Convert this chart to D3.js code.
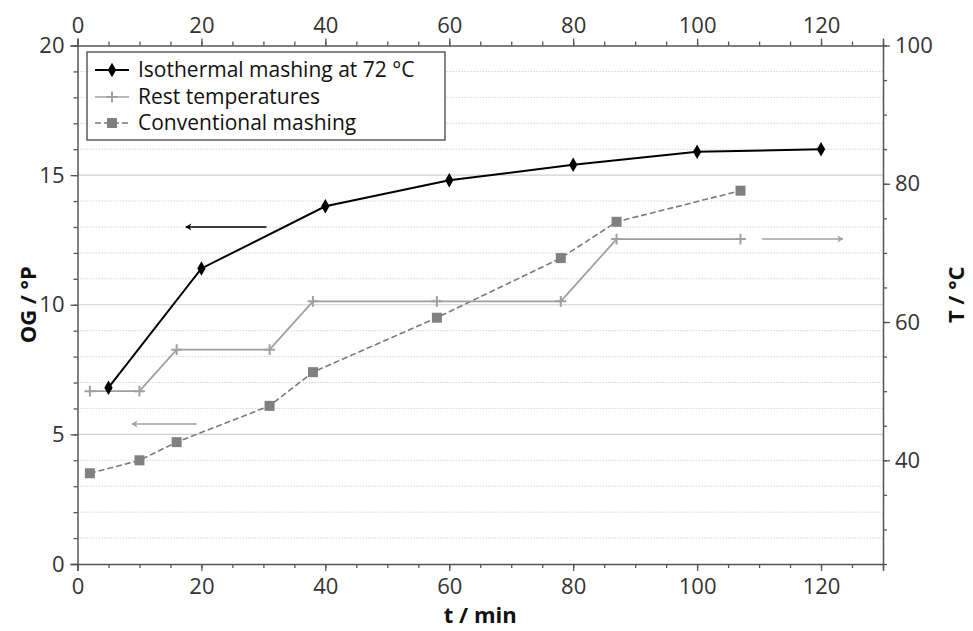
<!DOCTYPE html>
<html>
<head>
<meta charset="utf-8">
<script src="https://cdn.jsdelivr.net/npm/d3@7"></script>
<style>
  body { margin: 0; background: #fff; }
  svg { font-family: "Open Sans", sans-serif; }
</style>
</head>
<body>
<div id="app"></div>
<script>
// data
const isoTime = [5, 20, 40, 60, 80, 100, 120];
const isoOG = [6.8, 11.4, 13.8, 14.8, 15.4, 15.9, 16.0];

const restTime = [2, 10, 16, 31, 38, 58, 78, 87, 107];
const restTemp = [50, 50, 56, 56, 63, 63, 63, 72, 72];

const convTime = [2, 10, 16, 31, 38, 58, 78, 87, 107];
const convOG = [3.5, 4.0, 4.7, 6.1, 7.4, 9.5, 11.8, 13.2, 14.4];

const legendLabels = ['Isothermal mashing at 72 °C', 'Rest temperatures', 'Conventional mashing'];

// axis-pointer arrows: start time, end time, value, which axis
const arrowFrom = [30.5, 19.2, 110.5];
const arrowTo = [17.5, 8.8, 123.5];
const arrowValue = [13, 5.4, 72];
const arrowAxis = ['left', 'left', 'right'];

const xTicks = [0, 20, 40, 60, 80, 100, 120];
const xMinor = d3.range(0, 131, 5);
const leftTicks = [0, 5, 10, 15, 20];
const leftMinor = d3.range(0, 21, 1);
const rightTicks = [40, 60, 80, 100];
const rightMinor = d3.range(25, 101, 5);

const W = 973;
const H = 631;
const margin = { top: 45.5, right: 90, bottom: 67, left: 77.5 };
const width = W - margin.left - margin.right;
const height = H - margin.top - margin.bottom;

const black = '#000';
const restColor = '#a0a0a0';
const convColor = '#7a7a7a';
const axisColor = '#555';
const labelColor = '#333';
const fontSize = 22;
const legendFontSize = 21;

const svg = d3.select('#app')
  .append('svg')
  .attr('width', W)
  .attr('height', H);

const g = svg.append('g')
  .attr('transform', `translate(${margin.left},${margin.top})`);

const x = d3.scaleLinear().domain([0, 130]).range([0, width]);
const yL = d3.scaleLinear().domain([0, 20]).range([height, 0]);
const yR = d3.scaleLinear().domain([25, 100]).range([height, 0]);

// grid: dotted every unit, solid every 5
g.append('g')
  .selectAll('line')
  .data(leftMinor.filter(v => v % 5 !== 0))
  .join('line')
  .attr('x1', 0)
  .attr('x2', width)
  .attr('y1', d => yL(d))
  .attr('y2', d => yL(d))
  .attr('stroke', '#d4d4d4')
  .attr('stroke-width', 1)
  .attr('stroke-dasharray', '1.5,1.5');

g.append('g')
  .selectAll('line')
  .data([5, 10, 15])
  .join('line')
  .attr('x1', 0)
  .attr('x2', width)
  .attr('y1', d => yL(d))
  .attr('y2', d => yL(d))
  .attr('stroke', '#cfcfcf')
  .attr('stroke-width', 1.2);

function styleAxis(sel) {
  sel.select('.domain').attr('stroke', axisColor).attr('stroke-width', 1.5);
  sel.selectAll('.tick line').attr('stroke', axisColor).attr('stroke-width', 1.3);
  sel.selectAll('.tick text')
    .attr('fill', labelColor)
    .attr('font-size', fontSize)
    .attr('font-family', '"Open Sans", sans-serif');
}

function minorAxis(axisFn, scale, values, transform) {
  const a = g.append('g')
    .attr('transform', transform)
    .call(axisFn(scale).tickValues(values).tickSize(4).tickFormat(''));
  a.select('.domain').remove();
  a.selectAll('.tick line').attr('stroke', axisColor).attr('stroke-width', 1.3);
}

minorAxis(d3.axisBottom, x, xMinor, `translate(0,${height})`);
minorAxis(d3.axisTop, x, xMinor, 'translate(0,0)');
minorAxis(d3.axisLeft, yL, leftMinor, 'translate(0,0)');
minorAxis(d3.axisRight, yR, rightMinor, `translate(${width},0)`);

g.append('g')
  .attr('transform', `translate(0,${height})`)
  .call(d3.axisBottom(x).tickValues(xTicks).tickSize(7).tickSizeOuter(7).tickPadding(7))
  .call(styleAxis);

g.append('g')
  .call(d3.axisTop(x).tickValues(xTicks).tickSize(7).tickSizeOuter(7).tickPadding(6))
  .call(styleAxis);

g.append('g')
  .call(d3.axisLeft(yL).tickValues(leftTicks).tickSize(7).tickSizeOuter(7).tickPadding(6))
  .call(styleAxis);

g.append('g')
  .attr('transform', `translate(${width},0)`)
  .call(d3.axisRight(yR).tickValues(rightTicks).tickSize(7).tickSizeOuter(0).tickPadding(5))
  .call(styleAxis);

// axis titles
svg.append('text')
  .attr('x', margin.left + x(65))
  .attr('y', 623)
  .attr('text-anchor', 'middle')
  .attr('font-size', fontSize)
  .attr('font-weight', 'bold')
  .attr('fill', '#111')
  .text('t / min');

svg.append('text')
  .attr('transform', `translate(36,${margin.top + height / 2}) rotate(-90)`)
  .attr('text-anchor', 'middle')
  .attr('font-size', fontSize)
  .attr('font-weight', 'bold')
  .attr('fill', '#111')
  .text('OG / °P');

svg.append('text')
  .attr('transform', `translate(964,${margin.top + height / 2 - 10}) rotate(-90)`)
  .attr('text-anchor', 'middle')
  .attr('font-size', fontSize)
  .attr('font-weight', 'bold')
  .attr('fill', '#111')
  .text('T / °C');

// arrows
const defs = svg.append('defs');
function addHead(id, color) {
  defs.append('marker')
    .attr('id', id)
    .attr('viewBox', '0 0 10 10')
    .attr('refX', 9)
    .attr('refY', 5)
    .attr('markerWidth', 7)
    .attr('markerHeight', 8)
    .attr('markerUnits', 'userSpaceOnUse')
    .attr('orient', 'auto')
    .append('path')
    .attr('d', 'M1,0 L10,5 L1,10 L4,5 Z')
    .attr('fill', color);
}
addHead('headBlack', black);
addHead('headGray', restColor);

arrowFrom.forEach((from, i) => {
  const yScale = arrowAxis[i] === 'left' ? yL : yR;
  g.append('line')
    .attr('x1', x(from))
    .attr('x2', x(arrowTo[i]))
    .attr('y1', yScale(arrowValue[i]))
    .attr('y2', yScale(arrowValue[i]))
    .attr('stroke', i === 0 ? black : restColor)
    .attr('stroke-width', 1.5)
    .attr('marker-end', i === 0 ? 'url(#headBlack)' : 'url(#headGray)');
});

// series
const convData = convTime.map((t, i) => [t, convOG[i]]);
const restData = restTime.map((t, i) => [t, restTemp[i]]);
const isoData = isoTime.map((t, i) => [t, isoOG[i]]);

g.append('path')
  .datum(convData)
  .attr('fill', 'none')
  .attr('stroke', convColor)
  .attr('stroke-width', 1.6)
  .attr('stroke-dasharray', '6,3')
  .attr('d', d3.line().x(d => x(d[0])).y(d => yL(d[1])));

g.selectAll('.convPoint')
  .data(convData)
  .join('rect')
  .attr('class', 'convPoint')
  .attr('x', d => x(d[0]) - 5)
  .attr('y', d => yL(d[1]) - 5)
  .attr('width', 10)
  .attr('height', 10)
  .attr('fill', '#808080');

g.append('path')
  .datum(restData)
  .attr('fill', 'none')
  .attr('stroke', restColor)
  .attr('stroke-width', 1.8)
  .attr('d', d3.line().x(d => x(d[0])).y(d => yR(d[1])));

const plusSymbol = d3.symbol().type(d3.symbolPlus || d3.symbolCross).size(40);
g.selectAll('.restPoint')
  .data(restData)
  .join('path')
  .attr('class', 'restPoint')
  .attr('transform', d => `translate(${x(d[0])},${yR(d[1])})`)
  .attr('d', plusSymbol)
  .attr('fill', 'none')
  .attr('stroke', restColor)
  .attr('stroke-width', 2);

g.append('path')
  .datum(isoData)
  .attr('fill', 'none')
  .attr('stroke', black)
  .attr('stroke-width', 2)
  .attr('d', d3.line().x(d => x(d[0])).y(d => yL(d[1])));

const diamond = d3.symbol().type(d3.symbolDiamond).size(60);
g.selectAll('.isoPoint')
  .data(isoData)
  .join('path')
  .attr('class', 'isoPoint')
  .attr('transform', d => `translate(${x(d[0])},${yL(d[1])})`)
  .attr('d', diamond)
  .attr('fill', black);

// legend
const legend = svg.append('g').attr('transform', 'translate(87,52)');
legend.append('rect')
  .attr('width', 358)
  .attr('height', 88)
  .attr('fill', '#fff')
  .attr('stroke', '#444')
  .attr('stroke-width', 1.3);

const rowY = [18, 45, 71];
const legendColor = [black, restColor, convColor];
legendLabels.forEach((label, i) => {
  const row = legend.append('g').attr('transform', `translate(0,${rowY[i]})`);
  row.append('line')
    .attr('x1', 8)
    .attr('x2', 42)
    .attr('stroke', legendColor[i])
    .attr('stroke-width', i === 0 ? 2 : 1.7)
    .attr('stroke-dasharray', i === 2 ? '6,3' : null);
  if (i === 0) {
    row.append('path').attr('transform', 'translate(25,0)').attr('d', diamond).attr('fill', black);
  } else if (i === 1) {
    row.append('path').attr('transform', 'translate(25,0)')
      .attr('d', plusSymbol)
      .attr('fill', 'none').attr('stroke', restColor).attr('stroke-width', 2);
  } else {
    row.append('rect').attr('x', 20).attr('y', -5).attr('width', 10).attr('height', 10).attr('fill', '#808080');
  }
  row.append('text')
    .attr('x', 51)
    .attr('dy', '0.35em')
    .attr('font-size', legendFontSize)
    .attr('fill', '#111')
    .text(label);
});
</script>
</body>
</html>
